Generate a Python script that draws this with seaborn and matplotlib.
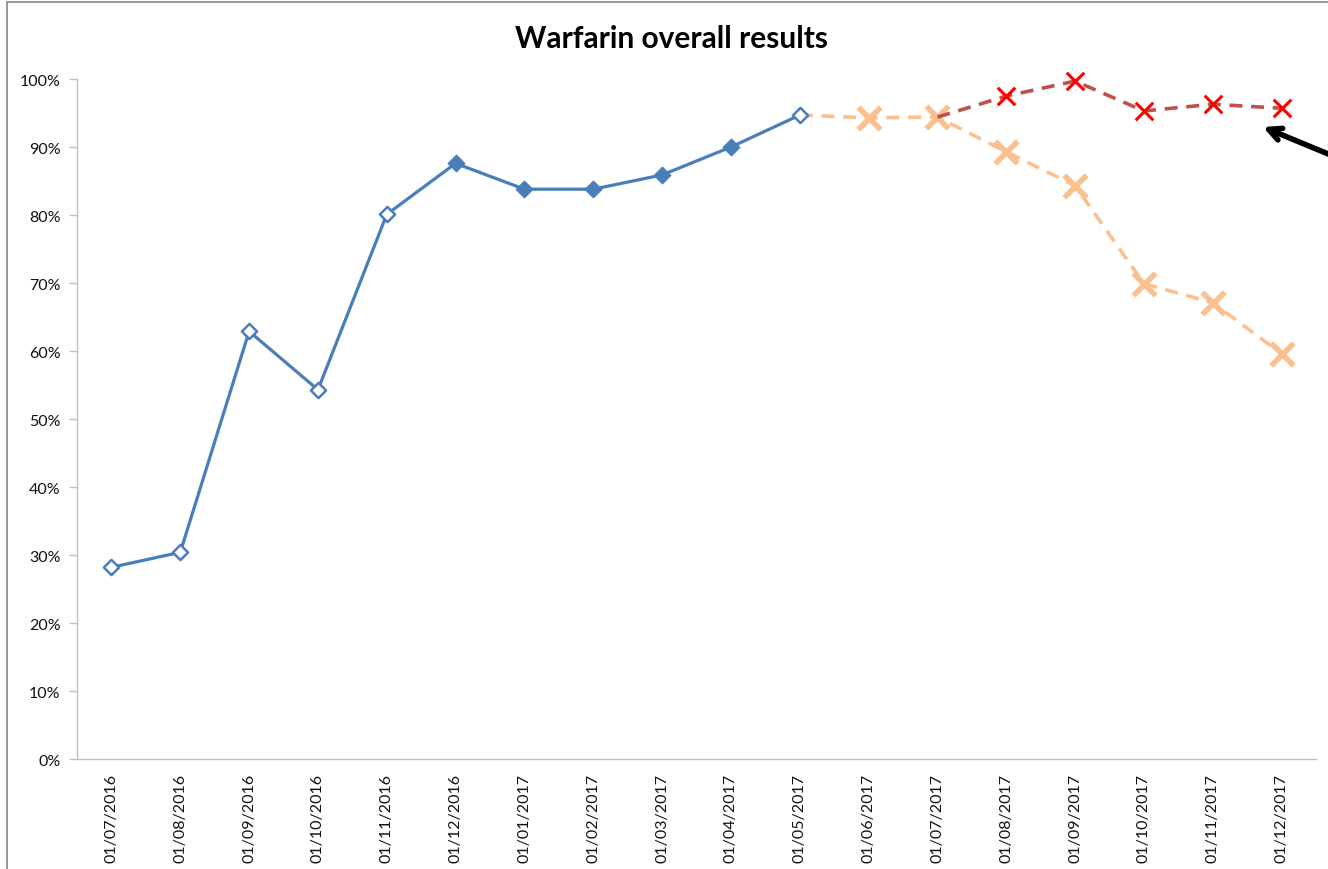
import matplotlib
matplotlib.use("Agg")
import matplotlib.pyplot as plt
import pandas as pd
import seaborn as sns
from matplotlib.lines import Line2D

dates = ['01/07/2016', '01/08/2016', '01/09/2016', '01/10/2016', '01/11/2016', '01/12/2016',
         '01/01/2017', '01/02/2017', '01/03/2017', '01/04/2017', '01/05/2017', '01/06/2017',
         '01/07/2017', '01/08/2017', '01/09/2017', '01/10/2017', '01/11/2017', '01/12/2017']
# actual results (Jul 2016 - May 2017)
actual = [28.2, 30.4, 62.9, 54.3, 80.1, 87.6, 83.8, 83.8, 85.9, 90.0, 94.7]
actual_open = [True, True, True, True, True, False, False, False, False, False, True]
# lower projection (May 2017 - Dec 2017)
low = [94.7, 94.3, 94.4, 89.3, 84.3, 69.9, 67.1, 59.6]
# upper projection (Jul 2017 - Dec 2017)
high = [94.4, 97.5, 99.7, 95.3, 96.3, 95.7]

sns.set_style("white")
plt.rcParams['font.family'] = ['Lato', 'DejaVu Sans']
plt.rcParams['text.color'] = '#111111'
plt.rcParams['xtick.color'] = '#111111'
plt.rcParams['ytick.color'] = '#111111'

blue = '#4A7EBB'
orange = '#FAC090'
darkred = '#C0504D'

dfa = pd.DataFrame({'x': range(0, len(actual)), 'y': actual, 'open': actual_open})
dfl = pd.DataFrame({'x': range(10, 10 + len(low)), 'y': low})
dfh = pd.DataFrame({'x': range(12, 12 + len(high)), 'y': high})

fig = plt.figure(figsize=(13.28, 8.7), dpi=100)
ax = fig.add_axes([0.058, 0.1264, 0.933, 0.7816])

# projections
sns.lineplot(data=dfl, x='x', y='y', ax=ax, color=orange, lw=2.6,
             linestyle=(0, (3.6, 2.4)), zorder=2)
sns.scatterplot(data=dfl[dfl['x'] > 10], x='x', y='y', ax=ax, marker='x', s=260,
                color=orange, linewidth=4, zorder=3, clip_on=False)
sns.lineplot(data=dfh, x='x', y='y', ax=ax, color=darkred, lw=2.6,
             linestyle=(0, (3.6, 2.4)), zorder=4, clip_on=False)
sns.scatterplot(data=dfh[dfh['x'] > 12], x='x', y='y', ax=ax, marker='x', s=160,
                color='#FF0000', linewidth=2.2, zorder=5, clip_on=False)

# actual
sns.lineplot(data=dfa, x='x', y='y', ax=ax, color=blue, lw=2.3, zorder=6)
op = dfa[dfa['open']]
fl = dfa[~dfa['open']]
sns.scatterplot(data=op, x='x', y='y', ax=ax, marker='D', s=60, facecolor='white',
                edgecolor=blue, linewidth=1.8, zorder=7)
sns.scatterplot(data=fl, x='x', y='y', ax=ax, marker='D', s=70, color=blue,
                edgecolor=blue, linewidth=1, zorder=7)

ax.set_xlim(-0.5, len(dates) - 0.5)
ax.set_ylim(0, 100)
ax.set_yticks(range(0, 101, 10))
ax.set_yticklabels([f'{v}%' for v in range(0, 101, 10)], fontsize=11.5)
ax.set_xticks(range(len(dates)))
ax.set_xticklabels(dates, rotation=90, fontsize=11.5)
ax.set_xticks([i - 0.5 for i in range(len(dates) + 1)], minor=True)
ax.tick_params(axis='x', which='major', length=0, pad=10)
ax.tick_params(axis='x', which='minor', length=7, color='#BFBFBF', width=1)
ax.tick_params(axis='y', length=6, color='#BFBFBF', width=1, left=True, pad=6)
ax.set_xlabel('')
ax.set_ylabel('')
for s in ['top', 'right']:
    ax.spines[s].set_visible(False)
for s in ['left', 'bottom']:
    ax.spines[s].set_color('#BFBFBF')
    ax.spines[s].set_linewidth(1)

fig.text(0.506, 0.955, 'Warfarin overall results', ha='center', va='center',
         fontsize=21.5, fontweight='bold', color='black')

# arrow pointing at the upper projection
ax.annotate('', xy=(1263, 742), xycoords='figure pixels', xytext=(1350, 706),
            textcoords='figure pixels', annotation_clip=False,
            arrowprops=dict(arrowstyle='->,head_length=0.9,head_width=0.45', lw=4,
                            color='black', shrinkA=0, shrinkB=0))

# chart border
fig.add_artist(Line2D([7 / 1328, 7 / 1328], [0, 1 - 3 / 870], transform=fig.transFigure,
                      color='#868686', lw=1.2))
fig.add_artist(Line2D([7 / 1328, 1], [1 - 3 / 870, 1 - 3 / 870], transform=fig.transFigure,
                      color='#868686', lw=1.2))

fig.savefig('out.png', dpi=100)
